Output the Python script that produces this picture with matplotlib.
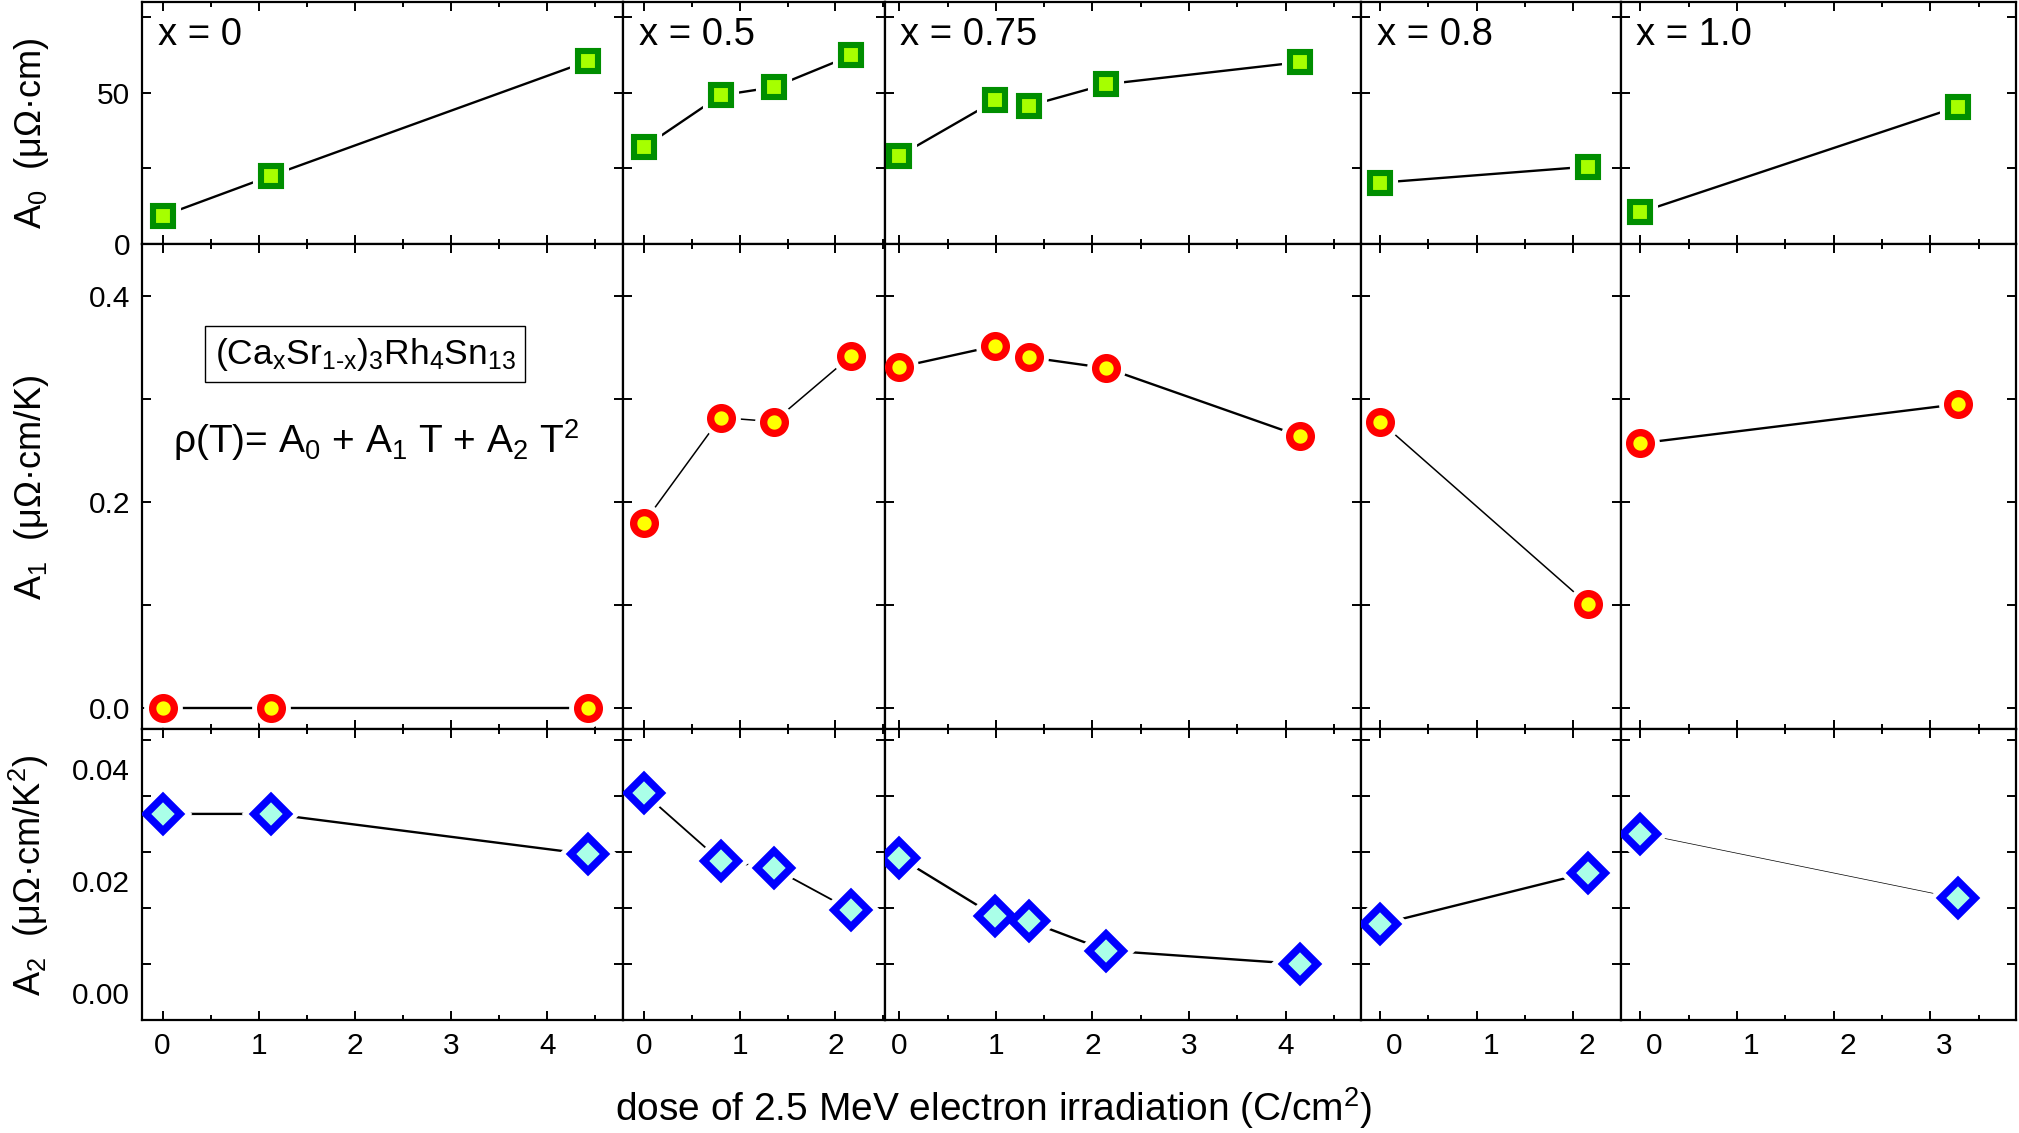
import matplotlib
matplotlib.use("Agg")
import matplotlib.pyplot as plt
from matplotlib.ticker import MultipleLocator, FormatStrFormatter
from matplotlib.transforms import ScaledTranslation

plt.rcParams['font.family'] = ['Liberation Sans', 'DejaVu Sans']
plt.rcParams['mathtext.default'] = 'regular'

# composition of each column
comp_labels = ['x = 0', 'x = 0.5', 'x = 0.75', 'x = 0.8', 'x = 1.0']

# irradiation dose (C/cm^2) per composition
dose = [
    [0, 1.13, 4.42],
    [0, 0.80, 1.355, 2.165],
    [0, 0.995, 1.346, 2.145, 4.15],
    [0, 2.15],
    [0, 3.29],
]

# fit parameters of rho(T) = A0 + A1 T + A2 T^2
A0 = [
    [9.3, 22.6, 60.5],
    [32.0, 49.2, 51.9, 62.4],
    [29.2, 47.5, 45.8, 52.9, 60.2],
    [20.3, 25.6],
    [10.5, 45.5],
]
A1 = [
    [0.0, 0.0, 0.0],
    [0.180, 0.282, 0.278, 0.342],
    [0.331, 0.3515, 0.3405, 0.330, 0.264],
    [0.278, 0.101],
    [0.257, 0.295],
]
A2 = [
    [0.0268, 0.0268, 0.0196],
    [0.0305, 0.0184, 0.0171, 0.0096],
    [0.0190, 0.0085, 0.0076, 0.0024, 0.0],
    [0.0071, 0.0163],
    [0.0233, 0.0117],
]

ylabels = ['A$_0$  (μΩ·cm)', 'A$_1$  (μΩ·cm/K)', 'A$_2$  (μΩ·cm/K$^2$)']

# layout in pixels of the 2019x1133 canvas
W, H = 2019, 1133
col_px = [142, 623, 884.5, 1361, 1620.5, 2016]
row_px = [2, 244, 729, 1020]
xlims = [(-0.214, 4.786), (-0.219, 2.512), (-0.155, 4.782), (-0.2, 2.492), (-0.207, 3.887)]
ylims = [(0, 80.1), (-0.0204, 0.4505), (-0.0100, 0.04196)]
ymajor = [50, 0.2, 0.02]
yminor = [25, 0.1, 0.01]
yfmt = ['%d', '%.1f', '%.2f']

styles = [
    dict(marker='s', ms=13.9, mew=4.4, mec='#008e00', mfc='#a6ff00'),
    dict(marker='o', ms=15.6, mew=5.3, mec='#ff0000', mfc='#ffff00'),
    dict(marker='D', ms=17.0, mew=5.4, mec='#0000ff', mfc='#aaffe8'),
]
line_w = [
    [1.7, 1.7, 1.7, 1.7, 1.7],
    [1.7, 1.1, 1.7, 1.1, 1.7],
    [1.7, 1.3, 1.7, 1.7, 0.5],
]

fig = plt.figure(figsize=(W / 100, H / 100), dpi=100)

data = [A0, A1, A2]
for r in range(3):
    for c in range(5):
        left = col_px[c] / W
        width = (col_px[c + 1] - col_px[c]) / W
        bottom = 1 - row_px[r + 1] / H
        height = (row_px[r + 1] - row_px[r]) / H
        ax = fig.add_axes([left, bottom, width, height])

        x = dose[c]
        y = data[r][c]
        st = styles[r]
        ax.plot(x, y, color='black', lw=line_w[r][c], zorder=2)
        # white halo leaves a small gap between line and symbol
        ax.plot(x, y, ls='none', marker=st['marker'], ms=st['ms'] + 7,
                mfc='white', mec='white', mew=st['mew'], zorder=2.2)
        ax.plot(x, y, ls='none', zorder=4, **st)

        ax.set_xlim(*xlims[c])
        ax.set_ylim(*ylims[r])
        ax.xaxis.set_major_locator(MultipleLocator(1))
        ax.xaxis.set_minor_locator(MultipleLocator(0.5))
        ax.yaxis.set_major_locator(MultipleLocator(ymajor[r]))
        ax.yaxis.set_minor_locator(MultipleLocator(yminor[r]))
        ax.xaxis.set_major_formatter(FormatStrFormatter('%d'))
        ax.yaxis.set_major_formatter(FormatStrFormatter(yfmt[r]))

        for sp in ax.spines.values():
            sp.set_linewidth(1.6)
        ax.tick_params(which='both', direction='in', top=True, right=True,
                       width=1.4, labelsize=21.5)
        ax.tick_params(axis='x', which='major', length=6.5, pad=9)
        ax.tick_params(axis='x', which='minor', length=3.6)
        ax.tick_params(axis='y', which='both', length=6.5, pad=8.5)
        ax.tick_params(labelbottom=(r == 2), labelleft=(c == 0))

        if r == 0:
            ax.annotate(comp_labels[c], xy=(0, 1), xycoords='axes fraction',
                        xytext=(11.5, -31), textcoords='offset points',
                        ha='left', va='baseline', fontsize=27.5)

        # tick label offsets as in the original export
        if r == 2 and c == 0:
            shift = ScaledTranslation(0, -0.29, fig.dpi_scale_trans)
            for lab in ax.get_yticklabels():
                lab.set_transform(lab.get_transform() + shift)
        if r == 2 and c >= 3:
            shift = ScaledTranslation(0.14, 0, fig.dpi_scale_trans)
            for lab in ax.get_xticklabels():
                lab.set_transform(lab.get_transform() + shift)

# axis titles
label_y = [1 - 133.5 / H, 1 - 487.5 / H, 1 - 875 / H]
for lab, yc in zip(ylabels, label_y):
    fig.text(41 / W, yc, lab, rotation=90, rotation_mode='anchor',
             ha='center', va='baseline', fontsize=26)

fig.text(994 / W, 12 / H, 'dose of 2.5 MeV electron irradiation (C/cm$^2$)',
         ha='center', va='baseline', fontsize=28)

# annotations in the x = 0, A1 panel
fig.text(365 / W, 1 - 354 / H, '(Ca$_x$Sr$_{1\u2010x}$)$_3$Rh$_4$Sn$_{13}$',
         ha='center', va='center', fontsize=25.5,
         bbox=dict(boxstyle='square,pad=0.28', fc='white', ec='black', lw=1))
fig.text(172.7 / W, 1 - 452.7 / H, 'ρ(T)= A$_0$ + A$_1$ T + A$_2$ T$^2$',
         ha='left', va='baseline', fontsize=28)

fig.savefig('out.png', dpi=100)
